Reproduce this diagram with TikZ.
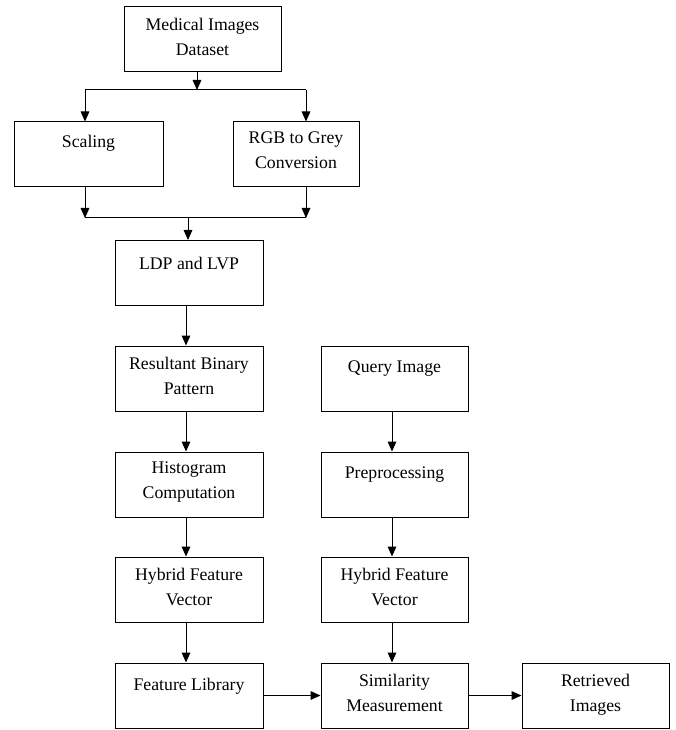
\documentclass[tikz,border=0pt]{standalone}
\usepackage{fontspec}
\setmainfont{Liberation Serif}
\usetikzlibrary{arrows.meta,calc}
\begin{document}
\begin{tikzpicture}[x=0.75pt,y=-0.75pt,
  box/.style={draw, line width=0.75pt, minimum height=48.75pt, inner sep=0pt},
  txt/.style={anchor=north, align=center, inner sep=0pt, font=\fontsize{13.3}{18.75}\selectfont, execute at begin node=\strut},
  arr/.style={line width=0.75pt, -{Triangle[length=7.5pt,width=6.5pt]}},
  ln/.style={line width=0.75pt}]
\useasboundingbox (0,0) rectangle (675,730);
% boxes
\node[box, minimum width=117.75pt] (med) at (202.5,39.5) {};
\node[box, minimum width=111.75pt] (scal) at (88.5,154.5) {};
\node[box, minimum width=94.5pt] (rgb) at (296,154.5) {};
\node[box, minimum width=111pt] (ldp) at (189,273) {};
\node[box, minimum width=111pt] (res) at (189,378.5) {};
\node[box, minimum width=111pt] (hist) at (189,484.5) {};
\node[box, minimum width=111pt] (hyb1) at (189,589.5) {};
\node[box, minimum width=111pt] (flib) at (189,695.5) {};
\node[box, minimum width=110.25pt] (query) at (394.5,378.5) {};
\node[box, minimum width=110.25pt] (pre) at (394.5,484.5) {};
\node[box, minimum width=110.25pt] (hyb2) at (394.5,589.5) {};
\node[box, minimum width=110.25pt] (sim) at (394.5,695.5) {};
\node[box, minimum width=110.25pt] (ret) at (595.5,695.5) {};
% texts
\node[txt] (medt) at ([yshift=-8.6pt]med.north) {Medical Images\\Dataset};
\node[txt] (scalt) at ([yshift=-6.2pt]scal.north) {Scaling};
\node[txt] (rgbt) at ([yshift=-7.6pt]rgb.north) {RGB to Grey\\Conversion};
\node[txt] (ldpt) at ([yshift=-9pt]ldp.north) {LDP and LVP};
\node[txt] (rest) at ([yshift=-8.3pt]res.north) {Resultant Binary\\Pattern};
\node[txt] (histt) at ([yshift=-7.6pt]hist.north) {Histogram\\Computation};
\node[txt] (hyb1t) at ([yshift=-8.6pt]hyb1.north) {Hybrid Feature\\Vector};
\node[txt] (flibt) at ([yshift=-7.4pt]flib.north) {Feature Library};
\node[txt] (queryt) at ([yshift=-6.6pt]query.north) {Query Image};
\node[txt] (pret) at ([yshift=-7.2pt]pre.north) {Preprocessing};
\node[txt] (hyb2t) at ([yshift=-8.6pt]hyb2.north) {Hybrid Feature\\Vector};
\node[txt] (simt) at ([yshift=-8.3pt]sim.north) {Similarity\\Measurement};
\node[txt] (rett) at ([yshift=-8.3pt]ret.north) {Retrieved\\Images};
% split
\coordinate (sp) at (197,90);
\coordinate (sl) at (85,90);
\coordinate (sr) at (306,90);
\draw[arr] (med.south -| sp) -- (sp);
\draw[ln] (sl) -- (sr);
\draw[arr] (sl) -- (sl |- scal.north);
\draw[arr] (sr) -- (sr |- rgb.north);
% join
\coordinate (jl) at (85,218);
\coordinate (jr) at (306,218);
\coordinate (jm) at (188,218);
\draw[arr] (scal.south -| jl) -- (jl);
\draw[arr] (rgb.south -| jr) -- (jr);
\draw[ln] (jl) -- (jr);
\draw[arr] (jm) -- (jm |- ldp.north);
% left column
\coordinate (lc) at (186,0);
\draw[arr] (ldp.south -| lc) -- (res.north -| lc);
\draw[arr] (res.south -| lc) -- (hist.north -| lc);
\draw[arr] (hist.south -| lc) -- (hyb1.north -| lc);
\draw[arr] (hyb1.south -| lc) -- (flib.north -| lc);
% right column
\coordinate (rc) at (392,0);
\draw[arr] (query.south -| rc) -- (pre.north -| rc);
\draw[arr] (pre.south -| rc) -- (hyb2.north -| rc);
\draw[arr] (hyb2.south -| rc) -- (sim.north -| rc);
% horizontal
\draw[arr] (flib.east) -- (sim.west);
\draw[arr] (sim.east) -- (ret.west);
\end{tikzpicture}
\end{document}
